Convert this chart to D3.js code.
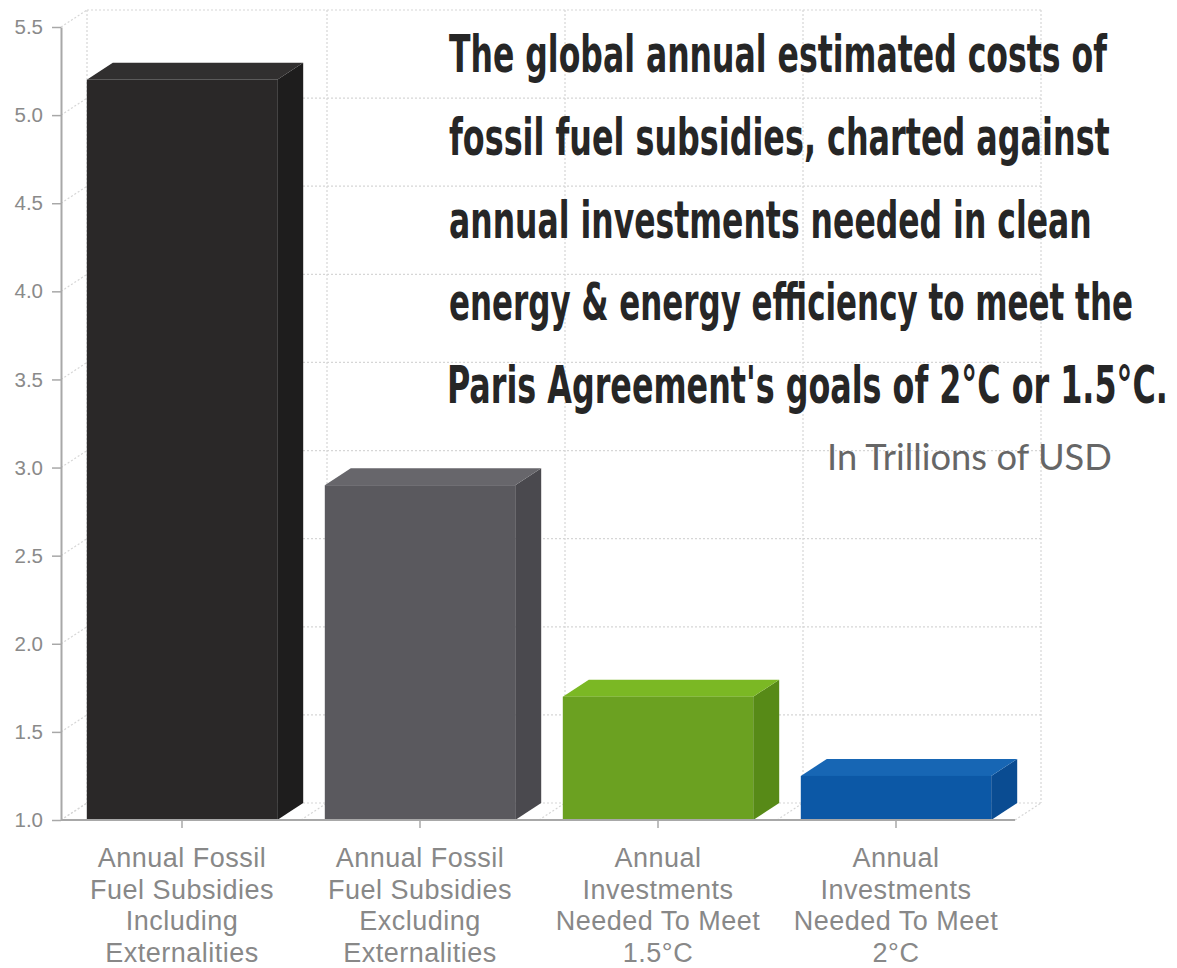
<!DOCTYPE html>
<html>
<head>
<meta charset="utf-8">
<script src="https://cdn.jsdelivr.net/npm/d3@7"></script>
<style>
  html, body { margin: 0; padding: 0; background: #ffffff; }
  svg { display: block; }
</style>
</head>
<body>
<script>
// ---- Data ----
const categories = [
  "Annual Fossil Fuel Subsidies Including Externalities",
  "Annual Fossil Fuel Subsidies Excluding Externalities",
  "Annual Investments Needed To Meet 1.5°C",
  "Annual Investments Needed To Meet 2°C"
];
const labelLines = [
  ["Annual Fossil", "Fuel Subsidies", "Including", "Externalities"],
  ["Annual Fossil", "Fuel Subsidies", "Excluding", "Externalities"],
  ["Annual", "Investments", "Needed To Meet", "1.5°C"],
  ["Annual", "Investments", "Needed To Meet", "2°C"]
];
const values = [5.2, 2.9, 1.7, 1.25];
const yTicks = [1.0, 1.5, 2.0, 2.5, 3.0, 3.5, 4.0, 4.5, 5.0, 5.5];
const titleLines = [
  "The global annual estimated costs of",
  "fossil fuel subsidies, charted against",
  "annual investments needed in clean",
  "energy & energy efficiency to meet the",
  "Paris Agreement's goals of 2°C or 1.5°C."
];
const subtitle = "In Trillions of USD";

// ---- Styles ----
const colors = [
  { front: "#2a2828", top: "#312f2f", side: "#1e1d1d" },
  { front: "#5a595e", top: "#67666b", side: "#4a494e" },
  { front: "#6ba121", top: "#7bb824", side: "#578a17" },
  { front: "#0c58a6", top: "#1766b4", side: "#0a4c92" }
];
const W = 1177, H = 968;
const DX = 26, DY = -17;
const axisX = 61, baseY = 820;

const svg = d3.select("body").append("svg").attr("width", W).attr("height", H);

const x = d3.scaleBand().domain(categories).range([63, 1015]).paddingInner(0.2).paddingOuter(0.1);
const y = d3.scaleLinear().domain([1, 5.5]).range([baseY, 27]);

const xEnd = x.range()[1];
const step = x.step();
const boundaries = d3.range(categories.length + 1).map(i => x.range()[0] + i * step);

// ---- Grid (3D back wall) ----
const grid = svg.append("g").attr("fill", "none").attr("stroke", "#d6d6d6")
  .attr("stroke-width", 1.2).attr("stroke-dasharray", "2,2");

grid.selectAll(".hb").data(yTicks).enter().append("line")
  .attr("x1", axisX + DX).attr("x2", xEnd + DX)
  .attr("y1", d => y(d) + DY).attr("y2", d => y(d) + DY);
grid.selectAll(".hd").data(yTicks).enter().append("line")
  .attr("x1", axisX).attr("x2", axisX + DX)
  .attr("y1", d => y(d)).attr("y2", d => y(d) + DY);
grid.selectAll(".vb").data(boundaries).enter().append("line")
  .attr("x1", (d, i) => (i === 0 ? axisX : d) + DX).attr("x2", (d, i) => (i === 0 ? axisX : d) + DX)
  .attr("y1", y(5.5) + DY).attr("y2", baseY + DY);
grid.selectAll(".fd").data(boundaries).enter().append("line")
  .attr("x1", (d, i) => (i === 0 ? axisX : d)).attr("x2", (d, i) => (i === 0 ? axisX : d) + DX)
  .attr("y1", baseY).attr("y2", baseY + DY);

// ---- Bars ----
const bars = svg.append("g").selectAll("g").data(categories).enter().append("g");
bars.append("path")
  .attr("fill", (d, i) => colors[i].side)
  .attr("d", (d, i) => {
    const x1 = x(d) + x.bandwidth(), yt = y(values[i]);
    return `M${x1},${yt}L${x1 + DX},${yt + DY}L${x1 + DX},${baseY + DY}L${x1},${baseY}Z`;
  });
bars.append("path")
  .attr("fill", (d, i) => colors[i].top)
  .attr("d", (d, i) => {
    const x0 = x(d), x1 = x(d) + x.bandwidth(), yt = y(values[i]);
    return `M${x0},${yt}L${x0 + DX},${yt + DY}L${x1 + DX},${yt + DY}L${x1},${yt}Z`;
  });
bars.append("rect")
  .attr("fill", (d, i) => colors[i].front)
  .attr("x", d => x(d)).attr("width", x.bandwidth())
  .attr("y", (d, i) => y(values[i])).attr("height", (d, i) => baseY - y(values[i]));

// ---- Axes ----
const yAxis = svg.append("g").attr("transform", `translate(${axisX},0)`)
  .call(d3.axisLeft(y).tickValues(yTicks).tickFormat(d3.format(".1f"))
    .tickSizeInner(9).tickSizeOuter(0).tickPadding(9));
yAxis.select(".domain").attr("stroke", "#a8a8a8").attr("stroke-width", 2);
yAxis.selectAll(".tick line").attr("stroke", "#a8a8a8").attr("stroke-width", 1.5);
yAxis.selectAll(".tick text").attr("fill", "#8a8a8a")
  .style("font-family", "'Liberation Sans', Arial, sans-serif").style("font-size", "20.5px");

const xAxis = svg.append("g").attr("transform", `translate(0,${baseY})`)
  .call(d3.axisBottom(x).tickFormat("").tickSizeInner(8).tickSizeOuter(0));
xAxis.select(".domain").attr("stroke", "#a8a8a8").attr("stroke-width", 2)
  .attr("d", `M${axisX},0H${xEnd}`);
xAxis.selectAll(".tick line").attr("stroke", "#a8a8a8").attr("stroke-width", 1.5);

// category labels
const lab = svg.append("g").attr("fill", "#888888")
  .style("font-family", "'Liberation Sans', Arial, sans-serif").style("font-size", "27px")
  .style("letter-spacing", "0.5px")
  .attr("text-anchor", "middle");
categories.forEach((c, i) => {
  const cx = x(c) + x.bandwidth() / 2;
  const t = lab.append("text").attr("x", cx).attr("y", 867);
  labelLines[i].forEach((line, j) => {
    t.append("tspan").attr("x", cx).attr("dy", j === 0 ? 0 : 31.7).text(line);
  });
});

// ---- Title ----
const titleWidths = [658, 661, 643, 684, 721];
const titleX = [449, 449, 449, 449, 447];
const title = svg.append("g").attr("fill", "#262626")
  .style("font-family", "'Liberation Sans Narrow', 'DejaVu Sans Condensed', 'Arial Narrow', sans-serif")
  .style("font-weight", "bold").style("font-size", "51px");
titleLines.forEach((line, i) => {
  const t = title.append("text").attr("x", 0).attr("y", 0).text(line);
  const w = t.node().getComputedTextLength();
  t.attr("transform", `translate(${titleX[i]},${72 + i * 82.8}) scale(${titleWidths[i] / w},1)`);
});

const sub = svg.append("text").attr("x", 0).attr("y", 0).attr("fill", "#666666")
  .style("font-family", "Lato, 'Open Sans', sans-serif").style("font-size", "36px")
  .text(subtitle);
const sw = sub.node().getComputedTextLength();
sub.attr("transform", `translate(827,470) scale(${285 / sw},1)`);
</script>
</body>
</html>
